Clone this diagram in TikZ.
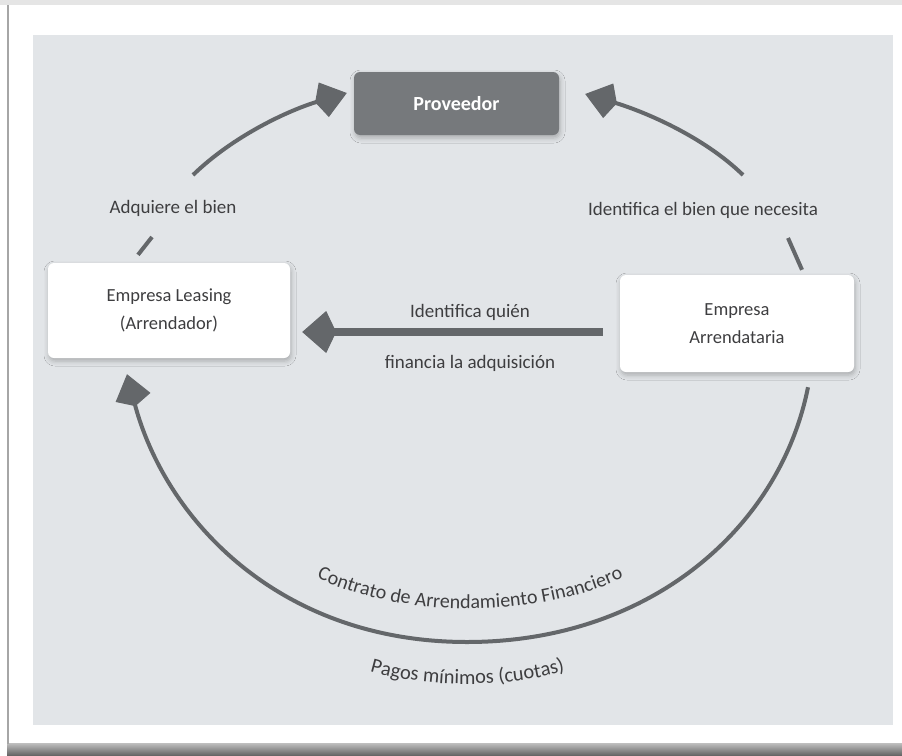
\documentclass[tikz,border=0pt]{standalone}
\usepackage{fontspec}
\setmainfont{Carlito}
\usetikzlibrary{arrows.meta,shadows.blur,decorations.text,calc}
\definecolor{panel}{RGB}{226,229,232}
\definecolor{provfill}{RGB}{118,121,124}
\definecolor{arr}{RGB}{100,103,106}
\definecolor{txt}{RGB}{62,62,64}
\begin{document}
\begin{tikzpicture}[x=1pt,y=-1pt,
  box/.style={fill=white, rounded corners=6pt, align=center, text=txt,
    blur shadow={shadow xshift=1pt, shadow yshift=-3pt, shadow blur radius=5pt, shadow opacity=25},
    font=\fontsize{18.5}{28}\selectfont},
  lbl/.style={text=txt, font=\fontsize{19}{22}\selectfont, inner sep=0pt},
  conn/.style={draw=arr, line width=4pt},
  kitetip/.style={-{Kite[length=33pt,width=36pt,inset=9pt,line width=1pt]}},
  bigtip/.style={-{Kite[length=34pt,width=42pt,inset=10pt,line width=1pt]}}
]
\useasboundingbox (0,0) rectangle (902,755);
% frame
\fill[white] (0,0) rectangle (902,755);
\fill[black!10] (0,0) rectangle (902,5);
\shade[top color=black!25, bottom color=black!60] (7,743) rectangle (902,755);
\draw[black!35, line width=2pt] (8,5) -- (8,744);
% panel
\fill[panel] (33,35) rectangle (893,725);

% boxes
\node[box, fill=provfill, text=white, minimum width=205pt, minimum height=63pt,
  font=\fontsize{20}{22}\selectfont\bfseries] (prov) at (456.5,103.5) {Proveedor};
\node[box, minimum width=242pt, minimum height=95pt] (leasing) at (169,310.5) {Empresa Leasing\\(Arrendador)};
\node[box, minimum width=234pt, minimum height=97pt] (arrend) at (737,323.5) {Empresa\\Arrendataria};

% labels
\node[lbl] (la) at (173,208) {Adquiere el bien};
\node[lbl] (lr) at (703,210) {Identifica el bien que necesita};
\node[lbl] (lh1) at (470,312) {Identifica quién};
\node[lbl] (lh2) at (470,363) {financia la adquisición};

% top-left connector
\draw[conn] ([xshift=-31pt,yshift=8pt]leasing.north) -- ([xshift=-21pt,yshift=-29pt]la.center);
\draw[conn, kitetip] ([xshift=20pt,yshift=33pt]la.center) .. controls (233,136) and (289,110) .. ([xshift=-7pt,yshift=10.5pt]prov.west);

% top-right connector
\draw[conn] ([xshift=65pt,yshift=5pt]arrend.north) -- ([xshift=85pt,yshift=-28pt]lr.center);
\draw[conn, kitetip] ([xshift=40pt,yshift=35pt]lr.center) .. controls (703,136) and (643,111) .. ([xshift=26pt,yshift=9.5pt]prov.east);

% horizontal connector
\draw[draw=arr, line width=7.5pt, bigtip] ([xshift=-17pt,yshift=-8.5pt]arrend.west) -- ([xshift=12pt,yshift=-21.5pt]leasing.east);

% bottom connector
\draw[conn, kitetip] ([xshift=71pt,yshift=-15pt]arrend.south) .. controls (780,528) and (650,642) .. (467,642)
  .. controls (280,642) and (165,520) .. ([xshift=-42pt,yshift=-16pt]leasing.south);

% curved labels
\path[decorate, decoration={text along path, text align=center,
  text={|\fontsize{20}{22}\selectfont\color{txt}|Contrato de Arrendamiento Financiero}}]
  (240,515) .. controls (320,640) and (620,640) .. (700,515);
\path[decorate, decoration={text along path, text align=center,
  text={|\fontsize{20.5}{22}\selectfont\color{txt}|Pagos mínimos (cuotas)}}]
  (295,630) .. controls (360,702) and (575,702) .. (640,630);
\end{tikzpicture}
\end{document}
